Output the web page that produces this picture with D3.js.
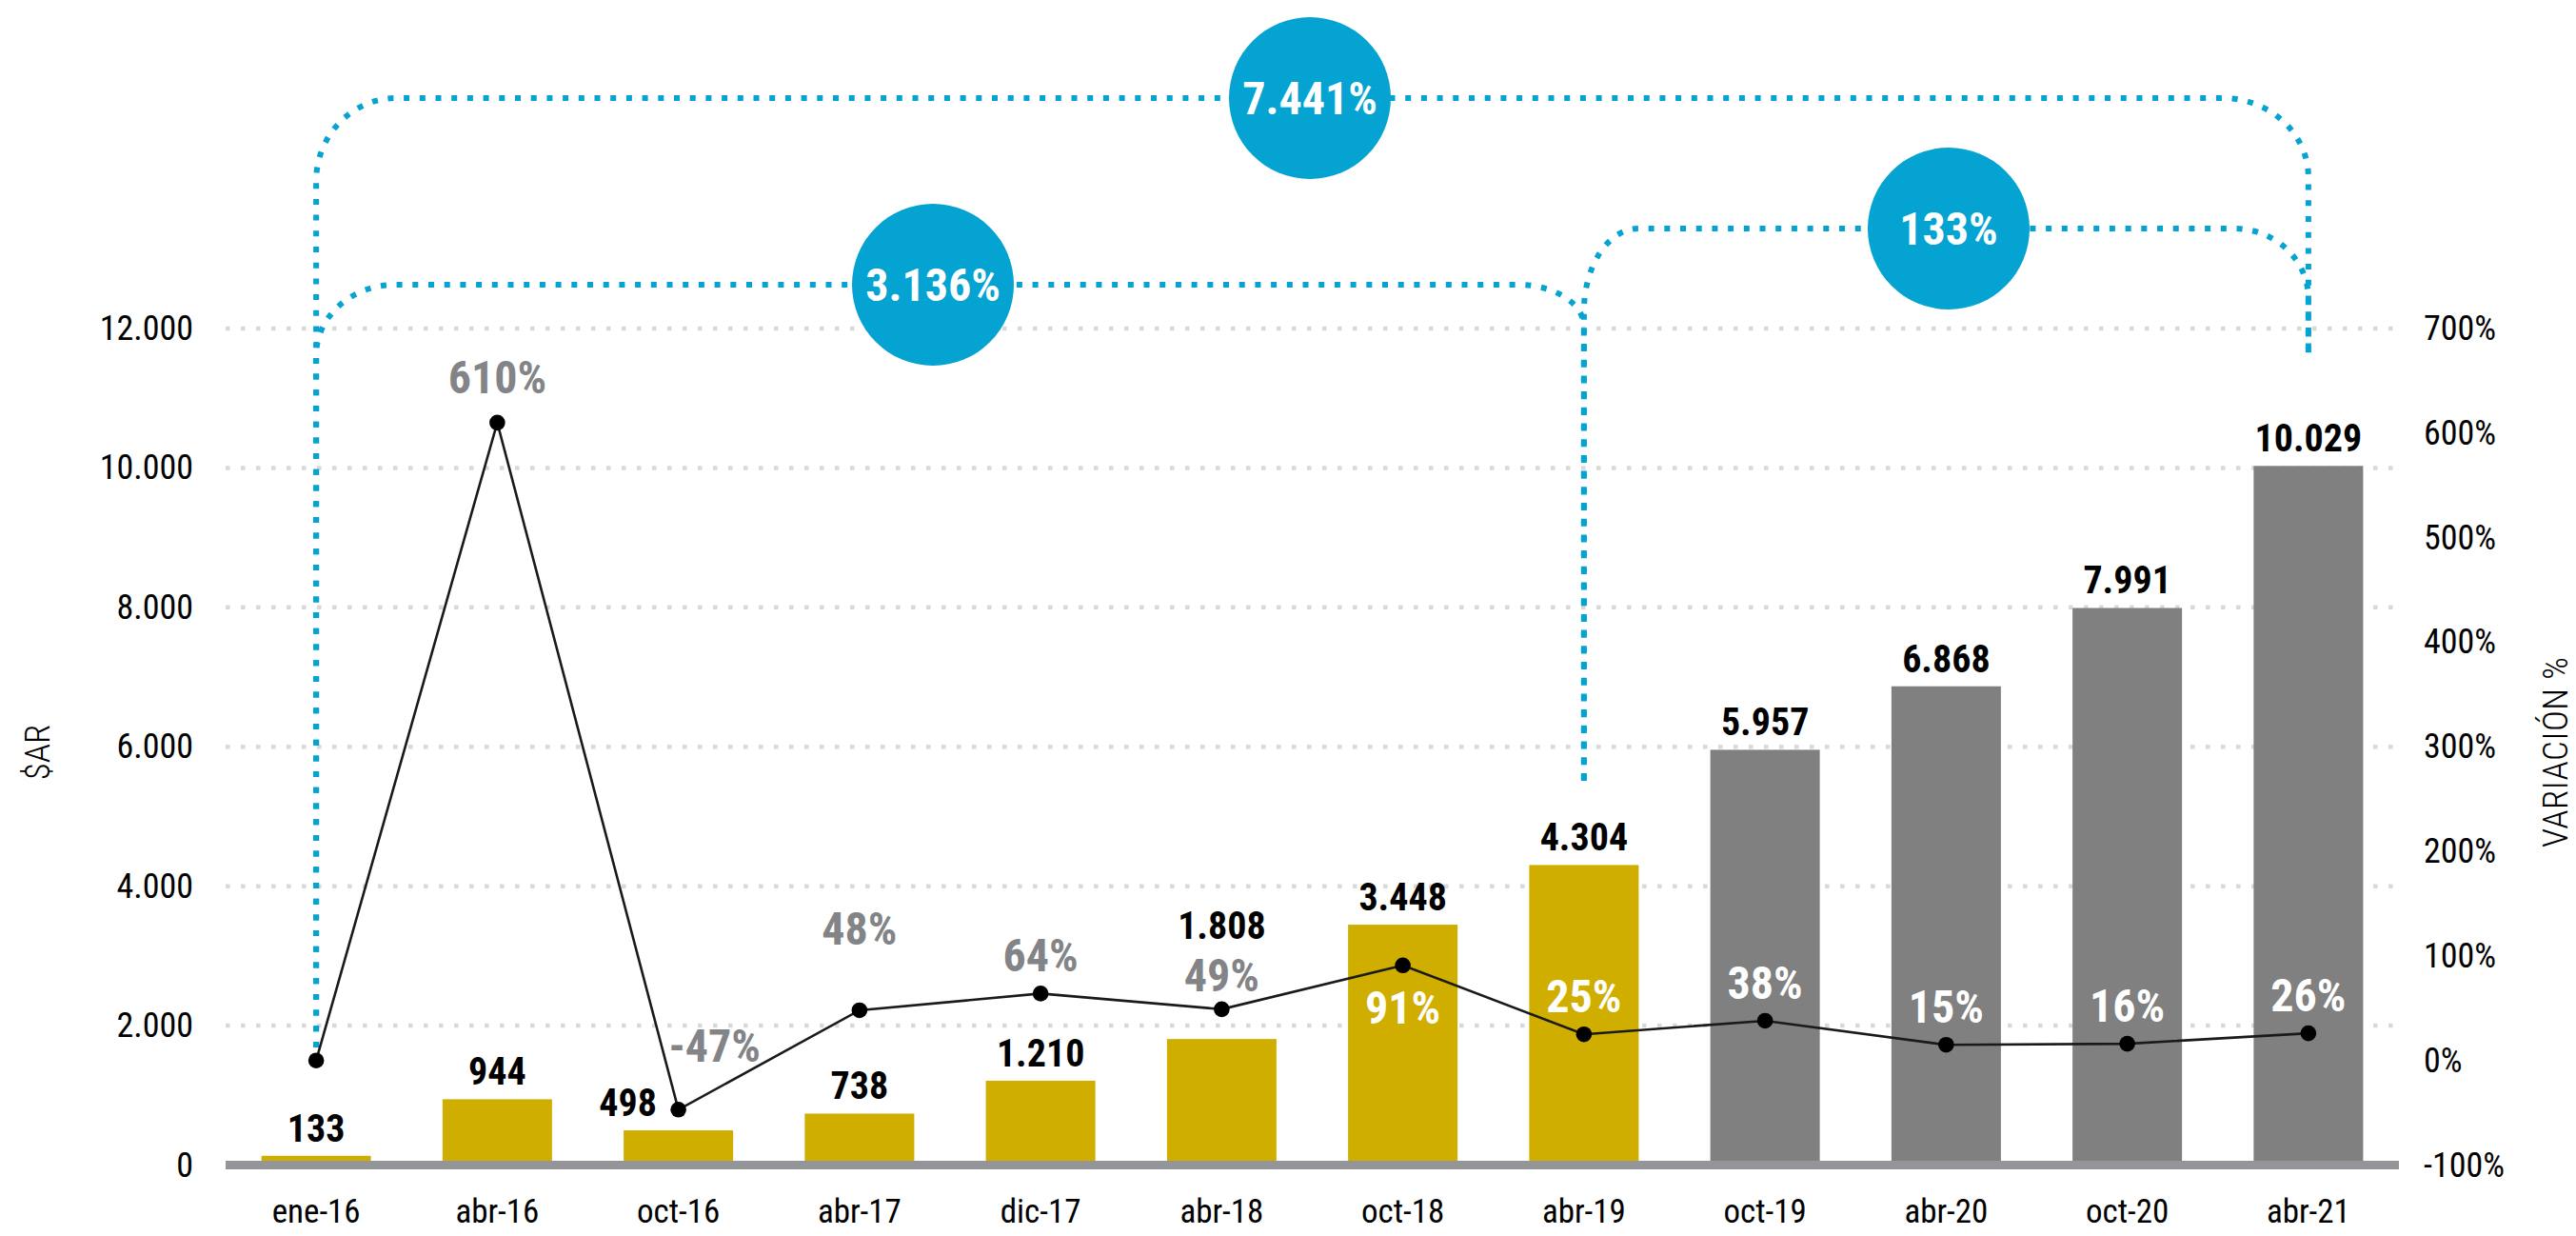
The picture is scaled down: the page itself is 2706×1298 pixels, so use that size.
<!DOCTYPE html>
<html><head><meta charset="utf-8">
<script src="https://cdn.jsdelivr.net/npm/d3@7"></script>
<style>html,body{margin:0;padding:0;background:#fff;overflow:hidden}svg{display:block}</style>
</head><body>
<svg id="chart" width="2706" height="1298"></svg>
<script>
// ---------- DATA ----------
const categories = ["ene-16","abr-16","oct-16","abr-17","dic-17","abr-18","oct-18","abr-19","oct-19","abr-20","oct-20","abr-21"];
const amounts = [133, 944, 498, 738, 1210, 1808, 3448, 4304, 5957, 6868, 7991, 10029];
const variation = [0, 610, -47, 48, 64, 49, 91, 25, 38, 15, 16, 26];
const variationLabels = [null, "610%", "-47%", "48%", "64%", "49%", "91%", "25%", "38%", "15%", "16%", "26%"];
const barPeriod = ["past","past","past","past","past","past","past","past","recent","recent","recent","recent"];
const leftTicks = [0, 2000, 4000, 6000, 8000, 10000, 12000];
const rightTicks = [-100, 0, 100, 200, 300, 400, 500, 600, 700];
const bracketFrom = ["ene-16", "ene-16", "abr-19"];
const bracketTo = ["abr-21", "abr-19", "abr-21"];
const bracketLabels = ["7.441%", "3.136%", "133%"];
const leftTitle = "$AR";
const rightTitle = "VARIACIÓN %";

// ---------- SETUP ----------
const svg = d3.select("#chart");
function measure(family){
  const t = svg.append("text").attr("font-family", family).attr("font-size", 100).text("0123456789%");
  const w = t.node().getComputedTextLength(); t.remove(); return w;
}
const hasCond = Math.abs(measure("'Roboto Condensed', monospace") - measure("monospace")) > 1;
const FONT = hasCond ? "'Roboto Condensed', Roboto, sans-serif" : "Roboto, sans-serif";
const SX = hasCond ? 1 : 0.9;

const GOLD = "#D0AE00", GRAY = "#808080", BLUE = "#05A3D1", LABELGRAY = "#838487";

const plotL = 237, plotR = 2520, yBase = 1223.5, yTopPlot = 345;
const x = d3.scaleBand().domain(categories).range([plotL, plotR]).paddingInner(0.3955).paddingOuter(0.19775);
const yL = d3.scaleLinear().domain([0, 12000]).range([yBase, yTopPlot]);
const yR = d3.scaleLinear().domain([-100, 700]).range([yBase, yTopPlot]);
const cx = c => x(c) + x.bandwidth() / 2;

const loc = d3.formatLocale({decimal: ",", thousands: ".", grouping: [3], currency: ["$", ""]});
const fmt = loc.format(",");

function txt(g, px, py, s, o){
  return g.append("text")
    .attr("transform", `translate(${px},${py})${o.rotate ? ` rotate(${o.rotate})` : ""} scale(${SX},1)`)
    .attr("text-anchor", o.anchor || "middle")
    .attr("font-family", FONT).attr("font-size", o.size)
    .attr("font-weight", o.weight || 400).attr("fill", o.fill || "#000")
    .text(s);
}

// ---------- GRIDLINES ----------
svg.append("g").selectAll("line").data(leftTicks.filter(d => d > 0)).join("line")
  .attr("x1", plotL).attr("x2", plotR)
  .attr("y1", d => yL(d)).attr("y2", d => yL(d))
  .attr("stroke", "#d9d9d9").attr("stroke-width", 4.5).attr("stroke-dasharray", "4.5 11.5");

// ---------- AXES ----------
const axL = svg.append("g").attr("transform", `translate(${plotL},0)`)
  .call(d3.axisLeft(yL).tickValues(leftTicks).tickSize(0).tickPadding(34).tickFormat(fmt));
const axR = svg.append("g").attr("transform", `translate(${plotR},0)`)
  .call(d3.axisRight(yR).tickValues(rightTicks).tickSize(0).tickPadding(26).tickFormat(d => d + "%"));
const axB = svg.append("g").attr("transform", `translate(0,${yBase})`)
  .call(d3.axisBottom(x).tickSize(0).tickPadding(36));
[axL, axR, axB].forEach(a => {
  a.select(".domain").remove();
  a.selectAll("text").attr("font-family", FONT).attr("fill", "#000")
    .each(function(){
      const xx = +this.getAttribute("x") || 0;
      this.setAttribute("x", xx / SX);
      this.setAttribute("transform", `scale(${SX},1)`);
    });
});
axL.selectAll("text").attr("font-size", 36);
axR.selectAll("text").attr("font-size", 36);
axB.selectAll("text").attr("font-size", 35);

// axis titles
txt(svg, 52, 790, leftTitle, {size: 37, rotate: -90, weight: 300});
txt(svg, 2697, 790, rightTitle, {size: 37, rotate: -90, weight: 300})
  .attr("textLength", 200).attr("lengthAdjust", "spacing");

// ---------- BARS ----------
svg.append("g").selectAll("rect").data(categories).join("rect")
  .attr("x", d => x(d)).attr("width", x.bandwidth())
  .attr("y", (d, i) => yL(amounts[i])).attr("height", (d, i) => yBase - yL(amounts[i]))
  .attr("fill", (d, i) => barPeriod[i] === "past" ? GOLD : GRAY);

// baseline bar
svg.append("rect").attr("x", plotL).attr("width", plotR - plotL)
  .attr("y", yBase - 4.5).attr("height", 9).attr("fill", "#939598");

// ---------- BAR VALUE LABELS ----------
const barLabelShift = {2: [-53, 0], 5: [0, -90]};
const gBL = svg.append("g");
categories.forEach((c, i) => {
  const s = barLabelShift[i] || [0, 0];
  txt(gBL, cx(c) + s[0], yL(amounts[i]) - 15 + s[1], fmt(amounts[i]), {size: 40, weight: 700});
});

// ---------- BRACKETS ----------
const bracketLayout = [
  {yTop: 103, yB1: 1100, yB2: 377, r1: [84, 87], r2: [90, 83], bx: 1376},
  {yTop: 299, yB1: 1100, yB2: 820, r1: [83, 74], r2: [69, 44], bx: 980},
  {yTop: 240, yB1: 820, yB2: 377, r1: [57, 87], r2: [78, 73], bx: 2047}
];
const gBr = svg.append("g");
bracketLabels.forEach((lab, i) => {
  const L = bracketLayout[i];
  const x1 = cx(bracketFrom[i]), x2 = cx(bracketTo[i]);
  const p = d3.path();
  p.moveTo(x1, L.yB1);
  p.lineTo(x1, L.yTop + L.r1[1]);
  p.bezierCurveTo(x1, L.yTop + L.r1[1] * 0.45, x1 + L.r1[0] * 0.45, L.yTop, x1 + L.r1[0], L.yTop);
  p.lineTo(x2 - L.r2[0], L.yTop);
  p.bezierCurveTo(x2 - L.r2[0] * 0.45, L.yTop, x2, L.yTop + L.r2[1] * 0.45, x2, L.yTop + L.r2[1]);
  p.lineTo(x2, L.yB2);
  gBr.append("path").attr("d", p.toString()).attr("fill", "none")
    .attr("stroke", BLUE).attr("stroke-width", 6).attr("stroke-dasharray", "6 10.7");
});
bracketLabels.forEach((lab, i) => {
  const L = bracketLayout[i];
  gBr.append("circle").attr("cx", L.bx).attr("cy", L.yTop).attr("r", 85).attr("fill", BLUE);
  txt(gBr, L.bx, L.yTop + 17, lab, {size: 48, weight: 700, fill: "#fff"});
});

// ---------- VARIATION LINE ----------
const line = d3.line().x((d, i) => cx(categories[i])).y(d => yR(d));
svg.append("path").datum(variation).attr("d", line)
  .attr("fill", "none").attr("stroke", "#1a1a1a").attr("stroke-width", 2.6);
svg.append("g").selectAll("circle").data(variation).join("circle")
  .attr("cx", (d, i) => cx(categories[i])).attr("cy", d => yR(d)).attr("r", 8.3).attr("fill", "#000");

// percentage labels
const pctOffset = {1: [0, -48], 2: [38, -67], 3: [0, -86], 5: [0, -36], 6: [0, 44]};
const gPL = svg.append("g");
variationLabels.forEach((lab, i) => {
  if (!lab) return;
  const o = pctOffset[i] || [0, -40];
  const white = barPeriod[i] === "recent" || i >= 6;
  txt(gPL, cx(categories[i]) + o[0], yR(variation[i]) + o[1] + 17, lab,
      {size: 48, weight: 700, fill: white ? "#fff" : LABELGRAY});
});
</script>
</body></html>
